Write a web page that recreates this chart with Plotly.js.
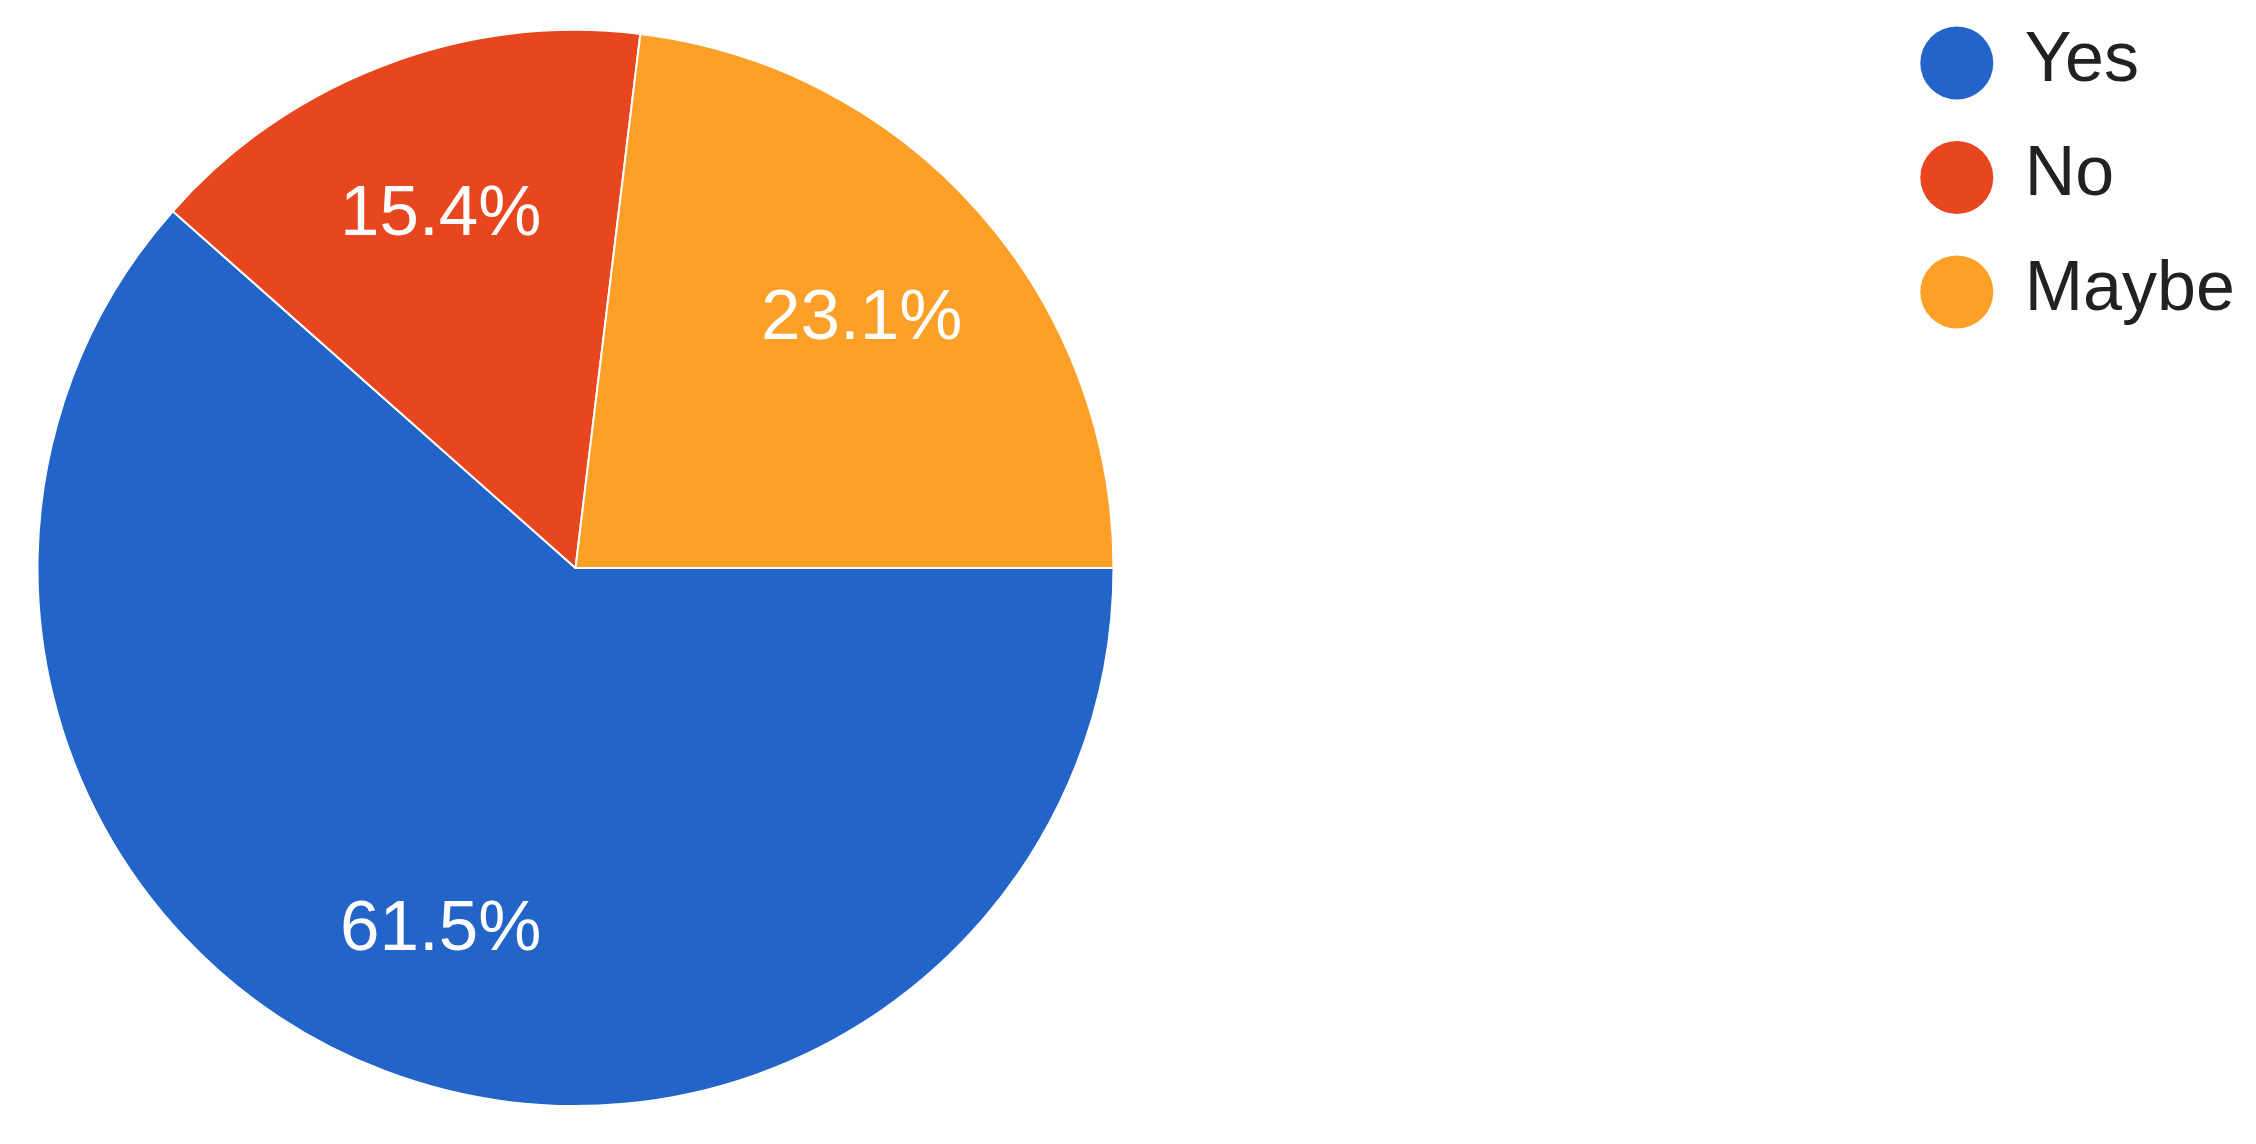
<!DOCTYPE html>
<html>
<head>
<meta charset="utf-8">
<script src="https://cdn.plot.ly/plotly-3.0.1.min.js"></script>
<style>
  html, body { margin: 0; padding: 0; background: #fff; }
</style>
</head>
<body>
<div id="chart" style="width:2256px;height:1144px"></div>
<script>
const answers = ["Yes", "No", "Maybe"];
const counts = [8, 2, 3];
const sliceColors = ["#2264c8", "#e8461f", "#fe9f28"];

const W = 2256, H = 1144;
const margin = { l: 0, r: 0, t: 30, b: 38 };
const plotH = H - margin.t - margin.b;
const cx = 575.5;        // pie centre, px
const R = plotH / 2;     // pie radius, px
const startAngle = 90;   // first slice starts at 3 o'clock

const total = counts.reduce((a, b) => a + b, 0);
const shares = counts.map(c => c / total * 100);

// percentage labels: placed at 71% of the radius on each slice's mid angle
let angle = startAngle;
const labelNotes = counts.map((c, i) => {
    const sweep = c / total * 360;
    const mid = (angle + sweep / 2) * Math.PI / 180;
    angle += sweep;
    return {
        xref: "paper", yref: "paper",
        xanchor: "center", yanchor: "middle",
        x: (cx + 0.71 * R * Math.sin(mid)) / W,
        y: 0.5 + 0.71 * 0.5 * Math.cos(mid),
        text: shares[i].toFixed(1) + "%",
        showarrow: false,
        font: { family: "Arial, 'Liberation Sans', sans-serif", size: 71, color: "#ffffff" }
    };
});

const pie = {
    type: "pie",
    values: counts,
    labels: answers,
    sort: false,
    direction: "clockwise",
    rotation: startAngle,
    marker: {
        colors: sliceColors,
        line: { color: "#ffffff", width: 2 }
    },
    textinfo: "none",
    hoverinfo: "label+percent",
    showlegend: false,
    domain: { x: [(cx - R) / W, (cx + R) / W], y: [0, 1] }
};

// legend drawn as circles + labels on a hidden axis pair (1 x-unit = 1 px)
const legendDots = {
    type: "scatter",
    mode: "markers",
    x: answers.map(() => 152),
    y: answers.map((_, i) => i),
    marker: { size: 73, color: sliceColors, line: { width: 0 } },
    hoverinfo: "skip",
    showlegend: false,
    cliponaxis: false
};

const legendText = {
    type: "scatter",
    mode: "text",
    x: answers.map(() => 220),
    y: answers.map((_, i) => i),
    text: answers,
    textposition: "middle right",
    textfont: { family: "Arial, 'Liberation Sans', sans-serif", size: 70, color: "#212121" },
    hoverinfo: "skip",
    showlegend: false,
    cliponaxis: false
};

// legend rows sit 114.5 px apart, first row centre at y = 63 px
const rowTop = (margin.t - 63) / 114.5;
const rowBottom = (H - margin.b - 63) / 114.5;

const layout = {
    width: W,
    height: H,
    margin: margin,
    paper_bgcolor: "#ffffff",
    plot_bgcolor: "rgba(0,0,0,0)",
    showlegend: false,
    xaxis: { domain: [0.8, 1], range: [0, 451.2], visible: false, fixedrange: true },
    yaxis: { domain: [0, 1], range: [rowBottom, rowTop], visible: false, fixedrange: true },
    annotations: labelNotes
};

Plotly.newPlot("chart", [pie, legendDots, legendText], layout, { displayModeBar: false });
</script>
</body>
</html>
